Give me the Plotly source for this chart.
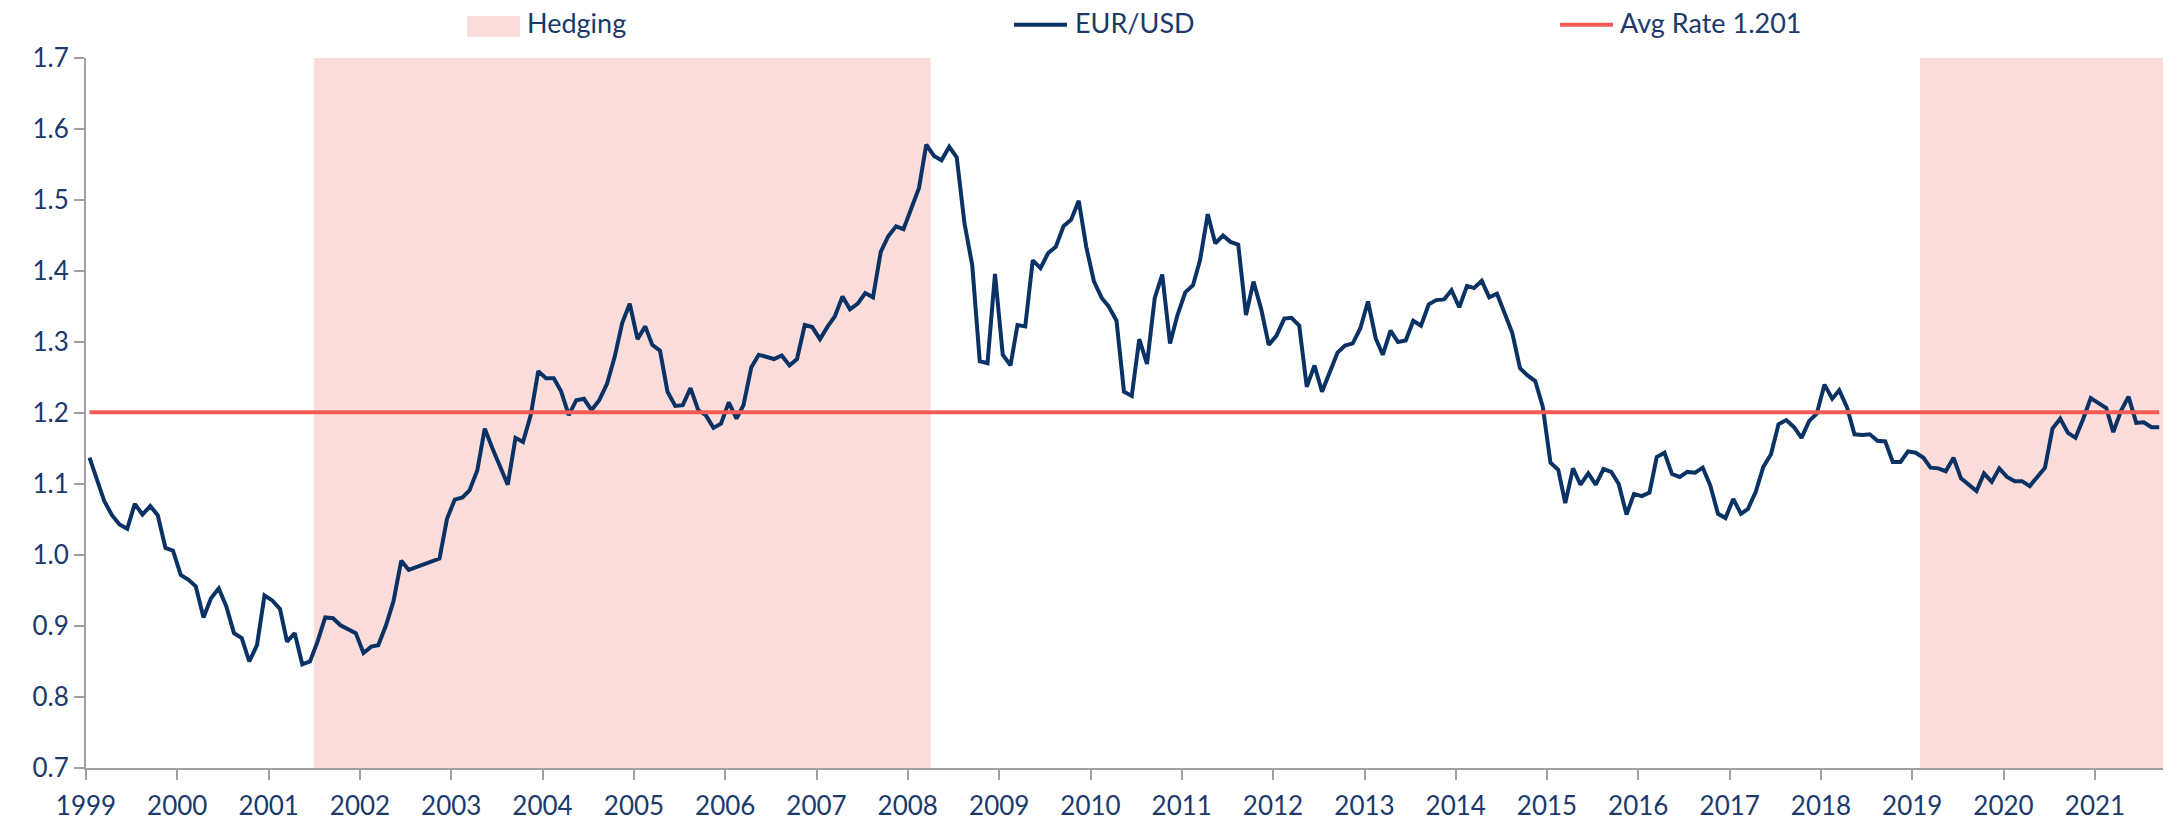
import pandas as pd
import plotly.graph_objects as go

# EUR/USD month-end rate, one list per year
eurusd_1999 = [1.137, 1.103, 1.076, 1.056, 1.043, 1.037, 1.072, 1.057, 1.069, 1.056, 1.010, 1.006]
eurusd_2000 = [0.972, 0.965, 0.956, 0.912, 0.939, 0.953, 0.928, 0.890, 0.883, 0.850, 0.873, 0.943]
eurusd_2001 = [0.936, 0.924, 0.878, 0.890, 0.846, 0.850, 0.878, 0.912, 0.911, 0.901, 0.896, 0.890]
eurusd_2002 = [0.862, 0.871, 0.873, 0.901, 0.935, 0.992, 0.979, 0.983, 0.988, 0.991, 0.995, 1.051]
eurusd_2003 = [1.078, 1.081, 1.091, 1.119, 1.178, 1.150, 1.125, 1.099, 1.165, 1.159, 1.197, 1.259]
eurusd_2004 = [1.249, 1.249, 1.231, 1.197, 1.218, 1.220, 1.204, 1.218, 1.241, 1.278, 1.327, 1.354]
eurusd_2005 = [1.304, 1.322, 1.296, 1.288, 1.230, 1.210, 1.211, 1.235, 1.204, 1.197, 1.179, 1.185]
eurusd_2006 = [1.215, 1.192, 1.211, 1.264, 1.282, 1.279, 1.276, 1.281, 1.267, 1.276, 1.324, 1.321]
eurusd_2007 = [1.304, 1.322, 1.336, 1.364, 1.346, 1.354, 1.369, 1.363, 1.427, 1.449, 1.463, 1.459]
eurusd_2008 = [1.488, 1.517, 1.578, 1.562, 1.556, 1.575, 1.560, 1.467, 1.408, 1.273, 1.270, 1.396]
eurusd_2009 = [1.282, 1.267, 1.324, 1.322, 1.415, 1.404, 1.425, 1.434, 1.463, 1.472, 1.499, 1.434]
eurusd_2010 = [1.385, 1.362, 1.350, 1.330, 1.230, 1.224, 1.304, 1.269, 1.362, 1.395, 1.298, 1.338]
eurusd_2011 = [1.370, 1.380, 1.415, 1.480, 1.439, 1.450, 1.441, 1.437, 1.338, 1.385, 1.346, 1.296]
eurusd_2012 = [1.309, 1.333, 1.334, 1.323, 1.237, 1.267, 1.230, 1.257, 1.285, 1.295, 1.298, 1.319]
eurusd_2013 = [1.357, 1.305, 1.282, 1.316, 1.300, 1.302, 1.330, 1.323, 1.353, 1.359, 1.360, 1.373]
eurusd_2014 = [1.349, 1.379, 1.376, 1.386, 1.363, 1.368, 1.340, 1.313, 1.263, 1.253, 1.245, 1.209]
eurusd_2015 = [1.130, 1.120, 1.073, 1.122, 1.099, 1.115, 1.099, 1.121, 1.117, 1.100, 1.057, 1.086]
eurusd_2016 = [1.083, 1.088, 1.138, 1.144, 1.114, 1.110, 1.117, 1.116, 1.123, 1.098, 1.058, 1.052]
eurusd_2017 = [1.079, 1.058, 1.065, 1.089, 1.124, 1.142, 1.184, 1.190, 1.180, 1.165, 1.189, 1.199]
eurusd_2018 = [1.240, 1.220, 1.232, 1.208, 1.170, 1.169, 1.170, 1.161, 1.160, 1.131, 1.131, 1.146]
eurusd_2019 = [1.144, 1.137, 1.123, 1.122, 1.118, 1.137, 1.108, 1.099, 1.090, 1.115, 1.103, 1.122]
eurusd_2020 = [1.110, 1.104, 1.104, 1.097, 1.110, 1.123, 1.178, 1.192, 1.172, 1.165, 1.192, 1.221]
eurusd_2021 = [1.214, 1.207, 1.173, 1.203, 1.223, 1.186, 1.187, 1.180, 1.180]

avg_rate = 1.201

hedge_start = ["2001-07-01", "2019-02-01"]
hedge_end = ["2008-04-01", "2021-09-30"]

year_ticks = [str(y) for y in range(1999, 2022)]
y_ticks = [0.7, 0.8, 0.9, 1.0, 1.1, 1.2, 1.3, 1.4, 1.5, 1.6, 1.7]

eurusd = (eurusd_1999 + eurusd_2000 + eurusd_2001 + eurusd_2002 + eurusd_2003
          + eurusd_2004 + eurusd_2005 + eurusd_2006 + eurusd_2007 + eurusd_2008
          + eurusd_2009 + eurusd_2010 + eurusd_2011 + eurusd_2012 + eurusd_2013
          + eurusd_2014 + eurusd_2015 + eurusd_2016 + eurusd_2017 + eurusd_2018
          + eurusd_2019 + eurusd_2020 + eurusd_2021)
dates = pd.date_range("1999-01-01", periods=len(eurusd), freq="MS") + pd.Timedelta(days=14)

NAVY = "#0b3265"
RED = "#f15b55"
PINK = "#fadcdb"
TEXT = "#1b3a6b"
FONT = "Lato"

fig = go.Figure()

# hedging periods as shaded bands
for x0, x1 in zip(hedge_start, hedge_end):
    fig.add_shape(type="rect", xref="x", yref="y", x0=x0, x1=x1, y0=0.7, y1=1.7,
                  fillcolor=PINK, line_width=0, layer="below")

fig.add_trace(go.Scatter(x=dates, y=eurusd, mode="lines", name="EUR/USD",
                         line=dict(color=NAVY, width=4)))
fig.add_trace(go.Scatter(x=[dates[0], dates[-1]], y=[avg_rate, avg_rate], mode="lines",
                         name="Avg Rate 1.201", line=dict(color=RED, width=4)))

# hand-placed legend across the top
fig.add_shape(type="rect", xref="paper", yref="paper", x0=0.1835, x1=0.2090,
              y0=1.03, y1=1.059, fillcolor=PINK, line_width=0)
fig.add_shape(type="line", xref="paper", yref="paper", x0=0.4468, x1=0.4723,
              y0=1.047, y1=1.047, line=dict(color=NAVY, width=4))
fig.add_shape(type="line", xref="paper", yref="paper", x0=0.7097, x1=0.7352,
              y0=1.047, y1=1.047, line=dict(color=RED, width=4))
legend_text = [("Hedging", 0.2114), ("EUR/USD", 0.4751), ("Avg Rate 1.201", 0.7376)]
for label, xp in legend_text:
    fig.add_annotation(text=label, xref="paper", yref="paper", x=xp, y=1.05,
                       xanchor="left", yanchor="middle", showarrow=False,
                       font=dict(family=FONT, size=27, color=TEXT))

fig.update_layout(
    width=2170,
    height=823,
    margin=dict(l=86, r=7, t=58, b=55),
    plot_bgcolor="white",
    paper_bgcolor="white",
    showlegend=False,
    font=dict(family=FONT, size=26, color=TEXT),
)
fig.update_xaxes(
    range=["1999-01-01", "2021-09-30"],
    tickvals=[y + "-01-01" for y in year_ticks],
    ticktext=year_ticks,
    ticks="outside", ticklen=10, tickcolor="#a0a0a0", tickwidth=2,
    ticklabelstandoff=4, automargin=False,
    showline=True, linecolor="#a0a0a0", linewidth=2,
    showgrid=False, zeroline=False,
)
fig.update_yaxes(
    range=[0.7, 1.7],
    tickvals=y_ticks,
    tickformat=".1f",
    ticks="outside", ticklen=10, tickcolor="#a0a0a0", tickwidth=2,
    automargin=False,
    showline=True, linecolor="#a0a0a0", linewidth=2,
    showgrid=False, zeroline=False,
)

fig.write_html("out.html", config={"displayModeBar": False},
               post_script="document.body.style.margin='0';")
